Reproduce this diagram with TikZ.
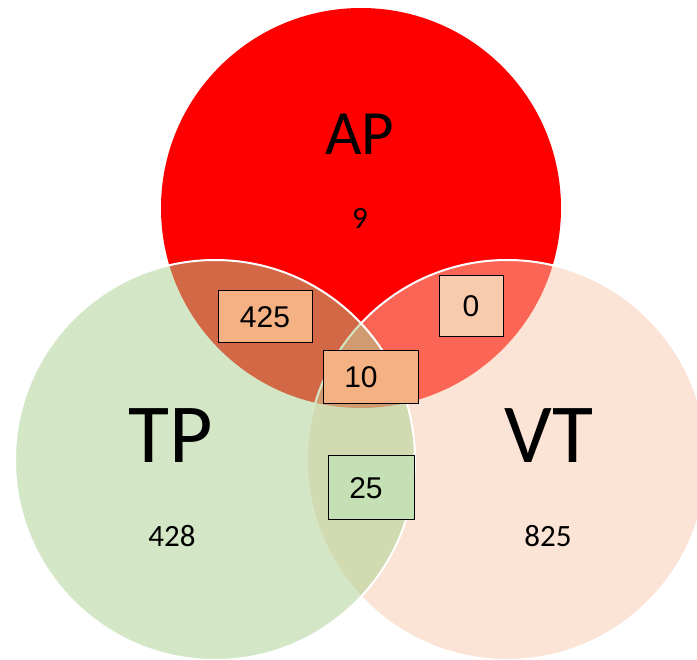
\documentclass[tikz,border=0pt]{standalone}
\usepackage{fontspec}
\setmainfont{Carlito}
\newfontfamily\arialf{Liberation Sans}
\definecolor{apred}{HTML}{FF0000}
\definecolor{vtfill}{HTML}{F8CBAD}
\definecolor{tpfill}{HTML}{A9D18E}
\definecolor{boxorange}{HTML}{F4B183}
\definecolor{boxpeach}{HTML}{F8CBAD}
\definecolor{boxgreen}{HTML}{C5E0B4}
\tikzset{
  setcircle/.style={circle, inner sep=0pt, outer sep=0pt, minimum size=400pt},
  overlay circ/.style={setcircle, fill opacity=0.5, draw=white, line width=2pt},
  biglabel/.style={anchor=base, inner sep=0pt, font=\fontsize{84}{90}\selectfont},
  countlabel/.style={anchor=base, inner sep=0pt, font=\fontsize{31}{34}\selectfont},
  numbox/.style={draw=black, line width=1pt, inner sep=0pt, font=\arialf\fontsize{30}{33}\selectfont}
}
\begin{document}
\begin{tikzpicture}[x=1pt,y=-1pt]
\useasboundingbox (0,0) rectangle (697,660);
\clip (0,0) rectangle (697,660);
\fill[white] (0,0) rectangle (697,660);
% circles
\node[setcircle, fill=apred] (ap) at (361,208) {};
\node[overlay circ, fill=vtfill] (vt) at (507,460) {};
\node[overlay circ, fill=tpfill] (tp) at (215,460) {};
% set labels
\node[biglabel, font=\fontsize{63}{68}\selectfont] (aplab) at (360,155) {AP};
\node[biglabel] (tplab) at (171,463) {TP};
\node[biglabel] (vtlab) at (549,463) {VT};
% counts
\node[countlabel] (apn) at (360,229) {9};
\node[countlabel] (tpn) at (172,547) {428};
\node[countlabel] (vtn) at (548,547) {825};
% intersection boxes
\node[numbox, fill=boxorange, minimum width=94pt, minimum height=52pt] (aptp) at (265,317) {425};
\node[numbox, fill=boxpeach, minimum width=64pt, minimum height=61pt] (apvt) at (471,306.5) {0};
\node[numbox, fill=boxorange, minimum width=95pt, minimum height=53pt] (all) at (370.5,377.5) {10\kern19pt};
\node[numbox, fill=boxgreen, minimum width=86pt, minimum height=64pt] (tpvt) at (371,488) {25\kern10pt};
\end{tikzpicture}
\end{document}
